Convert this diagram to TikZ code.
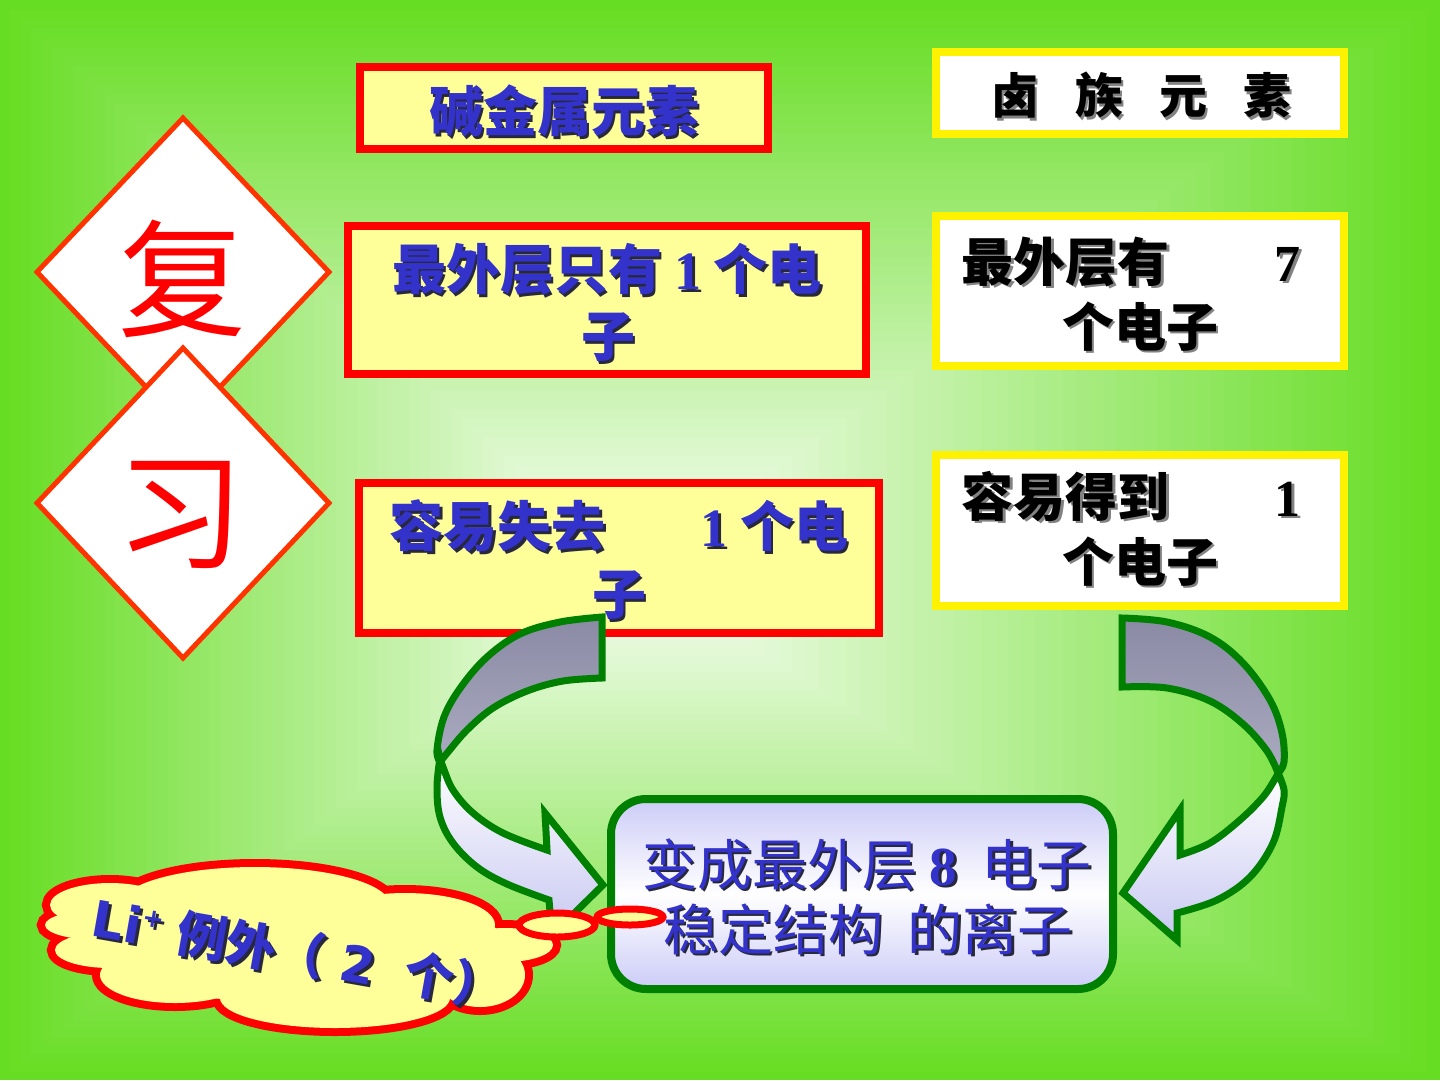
\documentclass[tikz,border=0pt]{standalone}
\usepackage{fontspec}
\usetikzlibrary{calc}
\newfontfamily\cjkf{Noto Sans CJK SC}
\newfontfamily\serf{Liberation Serif}
\newfontfamily\dejf{DejaVu Sans}
\newcommand\zhb{\cjkf\bfseries}
\newcommand\zhr{\cjkf}
\newcommand\numb{\serf\bfseries}
\newcommand\dejb{\dejf\bfseries}
\definecolor{bgG}{RGB}{102,221,34}
\definecolor{tblue}{RGB}{51,51,204}
\definecolor{pyel}{RGB}{255,255,153}
\definecolor{agreen}{RGB}{0,128,0}
\definecolor{dred}{RGB}{255,51,0}
\definecolor{shd}{RGB}{40,40,60}
\definecolor{gshd}{RGB}{130,130,130}
\definecolor{agrayT}{RGB}{138,138,165}
\definecolor{agrayB}{RGB}{170,170,192}
\definecolor{alav}{RGB}{200,200,242}
\definecolor{cbl}{RGB}{204,204,248}
% name, position, text colour, shadow colour, size, content
\newcommand\shtext[6]{%
  \node[txt, text=#4, font=\fontsize{#5}{#5}\selectfont] (#1s) at ($(#2)+(2.5,2.5)+(0,0.37*#5)$) {#6};
  \node[txt, text=#3, font=\fontsize{#5}{#5}\selectfont] (#1) at ($(#2)+(0,0.37*#5)$) {#6};}
\begin{document}
\begin{tikzpicture}[x=1pt,y=-1pt,
  txt/.style={inner sep=0pt, anchor=base},
  lbox/.style={draw=red, line width=8pt, fill=pyel, inner sep=0pt},
  rbox/.style={draw=yellow, line width=8pt, fill=white, inner sep=0pt},
  abord/.style={draw=agreen, line width=7pt},
  dia/.style={draw=dred, line width=5pt, fill=white}]
\useasboundingbox (0,0) rectangle (1440,1080);
% background: rectangular gradient
\foreach \i in {0,...,59}{
  \pgfmathsetmacro\bgt{\i/60}
  \pgfmathsetmacro\bgp{100*(1-\bgt)+2*\bgt}
  \fill[bgG!\bgp!white] ({630*\bgt},{570*\bgt}) rectangle ({1440-810*\bgt},{1080-510*\bgt});
}
% diamonds
\draw[dia] (183,118) -- (329,272) -- (183,426) -- (37,272) -- cycle;
\node[inner sep=0pt, anchor=base, text=red, font=\zhr\fontsize{128}{128}\selectfont] (fu) at (182,327) {复};
\draw[dia] (183,348) -- (329,503) -- (183,658) -- (37,503) -- cycle;
\node[inner sep=0pt, anchor=base, text=red, font=\zhr\fontsize{128}{128}\selectfont] (xi) at (180,559) {习};
% left boxes
\node[lbox, minimum width=408pt, minimum height=82pt] (alk) at (564,108) {};
\node[lbox, minimum width=518pt, minimum height=148pt] (one) at (607,300) {};
\node[lbox, minimum width=520pt, minimum height=150pt] (lose) at (619,558) {};
% right boxes
\node[rbox, minimum width=408pt, minimum height=82pt] (hal) at (1140,93) {};
\node[rbox, minimum width=408pt, minimum height=150pt] (seven) at (1140,291) {};
\node[rbox, minimum width=408pt, minimum height=151pt] (gain) at (1140,530) {};
% centre box
\node[draw=agreen, line width=8pt, rounded corners=35pt, top color=cbl, bottom color=cbl, middle color=white,
      minimum width=502pt, minimum height=190pt, inner sep=0pt] (res) at (862,894) {};
% left curved arrow
\shadedraw[abord, top color=agrayT, bottom color=agrayB]
  (602,617) -- plot[smooth,tension=0.6] coordinates {(602,617) (560,622) (520,634) (487,657) (461,687) (444,717) (437,750) (440,762)}
  -- plot[smooth,tension=0.6] coordinates {(440,762) (448,752) (467,730) (493,708) (527,691) (563,681) (602,678)} -- cycle;
\shadedraw[abord, top color=white, bottom color=alav]
  (440,758) -- plot[smooth,tension=0.6] coordinates {(440,758) (437,787) (440,817) (453,843) (477,867) (507,884) (549,900)}
  -- (552,935) -- (603,885) -- (545,813) -- (547,850)
  -- plot[smooth,tension=0.6] coordinates {(547,850) (503,833) (473,813) (453,790) (443,767) (440,758)} -- cycle;
% right curved arrow
\shadedraw[abord, top color=agrayT, bottom color=agrayB]
  (1122,618) -- plot[smooth,tension=0.6] coordinates {(1122,618) (1167,622) (1210,637) (1243,663) (1270,700) (1282,733) (1284,762) (1278,773)}
  -- plot[smooth,tension=0.6] coordinates {(1278,773) (1267,751) (1243,724) (1210,701) (1167,688) (1122,687)} -- cycle;
\shadedraw[abord, top color=white, bottom color=alav]
  (1278,773) -- plot[smooth,tension=0.6] coordinates {(1278,773) (1284,790) (1282,807) (1273,843) (1250,877) (1217,900) (1177,913)}
  -- (1177,940) -- (1123,893) -- (1180,810) -- (1180,855)
  -- plot[smooth,tension=0.6] coordinates {(1180,855) (1210,843) (1240,820) (1263,797) (1275,779) (1278,773)} -- cycle;
% texts
\shtext{t1}{564,112}{tblue}{shd}{54}{\zhb 碱金属元素}
\shtext{t2a}{607,270}{tblue}{shd}{54}{\zhb 最外层只有 {\numb 1} 个电}
\shtext{t2b}{608,337}{tblue}{shd}{54}{\zhb 子}
\shtext{t3a}{619,527}{tblue}{shd}{54}{\zhb 容易失去\hspace{95pt}{\numb 1} 个电}
\shtext{t3b}{619,595}{tblue}{shd}{54}{\zhb 子}
\shtext{r1}{1141,96}{black}{gshd}{48}{\zhb 卤\hspace{36pt}族\hspace{36pt}元\hspace{36pt}素}
\shtext{r2a}{1131,262}{black}{gshd}{52}{\zhb 最外层有\hspace{105pt}{\numb 7}}
\shtext{r2b}{1140,327}{black}{gshd}{52}{\zhb 个电子}
\shtext{r3a}{1131,497}{black}{gshd}{52}{\zhb 容易得到\hspace{105pt}{\numb 1}}
\shtext{r3b}{1140,562}{black}{gshd}{52}{\zhb 个电子}
\shtext{c1}{867,865}{tblue}{shd}{55}{\zhr 变成最外层 {\numb 8}\ \ 电子}
\shtext{c2}{868,930}{tblue}{shd}{55}{\zhr 稳定结构\ \ 的离子}
% cloud callout
\foreach \cx/\cy/\rx/\ry in {255/905/135/38, 405/925/90/32, 110/905/60/22, 100/925/55/15, 110/950/55/18,
    175/975/75/28, 335/998/115/30, 480/975/45/32, 505/945/48/17, 300/948/210/55}{
  \draw[red, line width=16pt] (\cx,\cy) ellipse [x radius=\rx, y radius=\ry];
}
\foreach \cx/\cy/\rx/\ry in {255/905/135/38, 405/925/90/32, 110/905/60/22, 100/925/55/15, 110/950/55/18,
    175/975/75/28, 335/998/115/30, 480/975/45/32, 505/945/48/17, 300/948/210/55}{
  \fill[pyel] (\cx,\cy) ellipse [x radius=\rx, y radius=\ry];
}
\draw[red, line width=7pt, fill=pyel] (557,925) ellipse [x radius=38, y radius=12];
\draw[red, line width=7pt, fill=pyel] (630,917) ellipse [x radius=33, y radius=8];
\node[inner sep=0pt, rotate=-10, text=shd, font=\fontsize{50}{50}\selectfont] (lis) at (301,956)
  {{\dejb Li}\raisebox{19pt}{\fontsize{26}{26}\selectfont\dejb +}\ {\zhb 例外（}\ {\dejb 2}\ \ {\zhb 个）}};
\node[inner sep=0pt, rotate=-10, text=tblue, font=\fontsize{50}{50}\selectfont] (li) at (298,953)
  {{\dejb Li}\raisebox{19pt}{\fontsize{26}{26}\selectfont\dejb +}\ {\zhb 例外（}\ {\dejb 2}\ \ {\zhb 个）}};
\end{tikzpicture}
\end{document}
